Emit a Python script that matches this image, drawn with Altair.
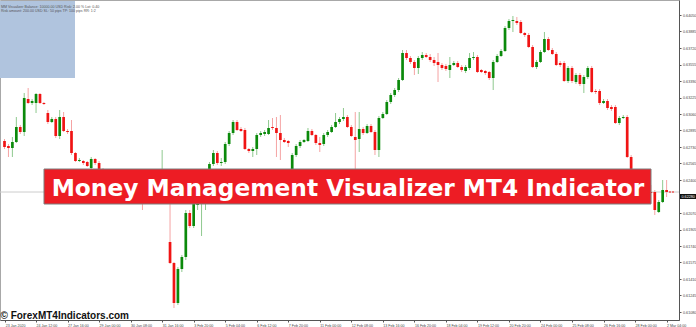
import altair as alt
import pandas as pd

# H4 candles, 23 Jan 2020 04:00 -> 2 Mar 2020 04:00 (Sunday bars included)
open_ = [
    0.6279, 0.6274, 0.6272, 0.6278, 0.6293, 0.6288, 0.6321, 0.6317, 0.6317, 0.6326,
    0.6317, 0.6307, 0.6298, 0.6301, 0.6284, 0.6303, 0.6289, 0.6289, 0.6267, 0.6259,
    0.6259, 0.6258, 0.6252, 0.6261, 0.6257, 0.6250, 0.6244, 0.6240, 0.6245, 0.6237,
    0.6232, 0.6236, 0.6230, 0.6227, 0.6231, 0.6224, 0.6222, 0.6229, 0.6234, 0.6239,
    0.6235, 0.6240, 0.6178, 0.6157, 0.6117, 0.6151, 0.6163, 0.6207, 0.6194, 0.6215,
    0.6220, 0.6230, 0.6242, 0.6256, 0.6267, 0.6257, 0.6258, 0.6276, 0.6287, 0.6298,
    0.6291, 0.6290, 0.6271, 0.6269, 0.6271, 0.6285, 0.6286, 0.6286, 0.6293, 0.6292,
    0.6287, 0.6280, 0.6279, 0.6248, 0.6265, 0.6274, 0.6278, 0.6279, 0.6289, 0.6285,
    0.6277, 0.6276, 0.6285, 0.6288, 0.6293, 0.6298, 0.6301, 0.6303, 0.6293, 0.6283,
    0.6281, 0.6291, 0.6287, 0.6294, 0.6288, 0.6270, 0.6302, 0.6306, 0.6318, 0.6325,
    0.6330, 0.6340, 0.6367, 0.6362, 0.6358, 0.6352, 0.6362, 0.6365, 0.6363, 0.6360,
    0.6358, 0.6355, 0.6354, 0.6350, 0.6355, 0.6357, 0.6353, 0.6349, 0.6352, 0.6362,
    0.6363, 0.6350, 0.6349, 0.6348, 0.6342, 0.6358, 0.6364, 0.6369, 0.6392, 0.6399,
    0.6399, 0.6398, 0.6387, 0.6385, 0.6373, 0.6353, 0.6358, 0.6368, 0.6381, 0.6370,
    0.6366, 0.6357, 0.6357, 0.6339, 0.6352, 0.6338, 0.6345, 0.6336, 0.6343, 0.6352,
    0.6329, 0.6329, 0.6317, 0.6319, 0.6313, 0.6313, 0.6297, 0.6302, 0.6303, 0.6263,
    0.6245, 0.6230, 0.6225, 0.6223, 0.6228, 0.6228, 0.6208, 0.6218, 0.6230,
]
high = [
    0.6281, 0.6276, 0.6283, 0.6303, 0.6295, 0.6327, 0.6332, 0.6321, 0.6327, 0.6327,
    0.6318, 0.6310, 0.6303, 0.6303, 0.6310, 0.6308, 0.6291, 0.6300, 0.6268, 0.6262,
    0.6260, 0.6259, 0.6263, 0.6262, 0.6259, 0.6252, 0.6248, 0.6249, 0.6247, 0.6240,
    0.6239, 0.6238, 0.6234, 0.6234, 0.6233, 0.6228, 0.6232, 0.6237, 0.6243, 0.6245,
    0.6270, 0.6244, 0.6220, 0.6158, 0.6153, 0.6165, 0.6210, 0.6210, 0.6220, 0.6230,
    0.6235, 0.6242, 0.6258, 0.6270, 0.6269, 0.6262, 0.6278, 0.6289, 0.6300, 0.6300,
    0.6293, 0.6292, 0.6272, 0.6273, 0.6287, 0.6289, 0.6290, 0.6300, 0.6302, 0.6303,
    0.6305, 0.6282, 0.6280, 0.6267, 0.6276, 0.6280, 0.6281, 0.6292, 0.6291, 0.6286,
    0.6283, 0.6287, 0.6290, 0.6295, 0.6307, 0.6303, 0.6312, 0.6305, 0.6295, 0.6308,
    0.6308, 0.6293, 0.6296, 0.6296, 0.6290, 0.6304, 0.6308, 0.6320, 0.6327, 0.6332,
    0.6342, 0.6370, 0.6370, 0.6364, 0.6360, 0.6364, 0.6368, 0.6367, 0.6366, 0.6363,
    0.6367, 0.6357, 0.6356, 0.6363, 0.6359, 0.6359, 0.6355, 0.6355, 0.6367, 0.6368,
    0.6365, 0.6351, 0.6350, 0.6349, 0.6360, 0.6366, 0.6371, 0.6394, 0.6401, 0.6404,
    0.6403, 0.6400, 0.6388, 0.6387, 0.6375, 0.6360, 0.6370, 0.6388, 0.6383, 0.6372,
    0.6368, 0.6359, 0.6359, 0.6354, 0.6354, 0.6347, 0.6347, 0.6345, 0.6354, 0.6354,
    0.6331, 0.6331, 0.6321, 0.6321, 0.6315, 0.6315, 0.6304, 0.6305, 0.6305, 0.6265,
    0.6248, 0.6235, 0.6232, 0.6232, 0.6235, 0.6230, 0.6220, 0.6240, 0.6240,
]
low = [
    0.6271, 0.6263, 0.6263, 0.6277, 0.6286, 0.6284, 0.6316, 0.6315, 0.6307, 0.6316,
    0.6315, 0.6296, 0.6297, 0.6282, 0.6281, 0.6288, 0.6286, 0.6265, 0.6258, 0.6258,
    0.6255, 0.6253, 0.6251, 0.6255, 0.6248, 0.6242, 0.6237, 0.6236, 0.6234, 0.6229,
    0.6228, 0.6226, 0.6223, 0.6224, 0.6221, 0.6210, 0.6219, 0.6226, 0.6231, 0.6232,
    0.6230, 0.6228, 0.6156, 0.6112, 0.6115, 0.6148, 0.6160, 0.6192, 0.6192, 0.6210,
    0.6184, 0.6210, 0.6238, 0.6254, 0.6255, 0.6254, 0.6256, 0.6274, 0.6285, 0.6289,
    0.6288, 0.6270, 0.6267, 0.6263, 0.6265, 0.6283, 0.6284, 0.6285, 0.6290, 0.6263,
    0.6260, 0.6277, 0.6273, 0.6245, 0.6263, 0.6272, 0.6277, 0.6278, 0.6284, 0.6275,
    0.6268, 0.6274, 0.6283, 0.6287, 0.6292, 0.6296, 0.6299, 0.6292, 0.6283, 0.6250,
    0.6268, 0.6285, 0.6286, 0.6287, 0.6265, 0.6263, 0.6301, 0.6305, 0.6316, 0.6323,
    0.6328, 0.6339, 0.6360, 0.6356, 0.6345, 0.6346, 0.6360, 0.6362, 0.6358, 0.6354,
    0.6338, 0.6350, 0.6349, 0.6342, 0.6354, 0.6352, 0.6348, 0.6347, 0.6350, 0.6360,
    0.6347, 0.6347, 0.6345, 0.6340, 0.6330, 0.6357, 0.6363, 0.6368, 0.6390, 0.6388,
    0.6395, 0.6386, 0.6383, 0.6372, 0.6352, 0.6351, 0.6357, 0.6367, 0.6369, 0.6365,
    0.6354, 0.6353, 0.6338, 0.6337, 0.6337, 0.6336, 0.6334, 0.6327, 0.6341, 0.6327,
    0.6326, 0.6315, 0.6316, 0.6310, 0.6309, 0.6296, 0.6295, 0.6301, 0.6262, 0.6242,
    0.6225, 0.6220, 0.6222, 0.6221, 0.6217, 0.6205, 0.6207, 0.6217, 0.6223,
]
close = [
    0.6273, 0.6272, 0.6278, 0.6293, 0.6288, 0.6322, 0.6317, 0.6319, 0.6326, 0.6317,
    0.6316, 0.6298, 0.6301, 0.6284, 0.6303, 0.6289, 0.6288, 0.6267, 0.6259, 0.6260,
    0.6257, 0.6254, 0.6261, 0.6257, 0.6250, 0.6244, 0.6240, 0.6245, 0.6237, 0.6232,
    0.6236, 0.6230, 0.6227, 0.6231, 0.6224, 0.6222, 0.6229, 0.6234, 0.6239, 0.6235,
    0.6240, 0.6232, 0.6157, 0.6117, 0.6151, 0.6163, 0.6207, 0.6194, 0.6217, 0.6225,
    0.6232, 0.6238, 0.6256, 0.6267, 0.6257, 0.6258, 0.6276, 0.6287, 0.6298, 0.6290,
    0.6289, 0.6271, 0.6269, 0.6271, 0.6285, 0.6287, 0.6288, 0.6292, 0.6292, 0.6287,
    0.6280, 0.6278, 0.6277, 0.6265, 0.6274, 0.6278, 0.6280, 0.6289, 0.6285, 0.6277,
    0.6275, 0.6285, 0.6288, 0.6293, 0.6298, 0.6301, 0.6303, 0.6293, 0.6284, 0.6280,
    0.6291, 0.6287, 0.6294, 0.6288, 0.6270, 0.6302, 0.6306, 0.6318, 0.6325, 0.6330,
    0.6340, 0.6367, 0.6362, 0.6358, 0.6352, 0.6362, 0.6365, 0.6363, 0.6360, 0.6357,
    0.6355, 0.6352, 0.6351, 0.6355, 0.6357, 0.6353, 0.6350, 0.6353, 0.6362, 0.6363,
    0.6348, 0.6348, 0.6347, 0.6342, 0.6358, 0.6364, 0.6369, 0.6392, 0.6399, 0.6400,
    0.6397, 0.6387, 0.6385, 0.6373, 0.6353, 0.6358, 0.6368, 0.6381, 0.6370, 0.6366,
    0.6355, 0.6355, 0.6339, 0.6352, 0.6339, 0.6345, 0.6336, 0.6343, 0.6352, 0.6328,
    0.6328, 0.6317, 0.6319, 0.6312, 0.6311, 0.6297, 0.6302, 0.6303, 0.6263, 0.6245,
    0.6230, 0.6225, 0.6227, 0.6229, 0.6227, 0.6210, 0.6218, 0.6230, 0.6228,
]

# time-axis captions, one every 8 bars
time_labels = [
    "23 Jan 2020", "24 Jan 12:00", "27 Jan 16:00", "29 Jan 00:00", "30 Jan 08:00",
    "31 Jan 16:00", "3 Feb 20:00", "5 Feb 04:00", "6 Feb 12:00", "7 Feb 20:00",
    "11 Feb 00:00", "12 Feb 08:00", "13 Feb 16:00", "16 Feb 20:00", "18 Feb 04:00",
    "19 Feb 12:00", "20 Feb 20:00", "24 Feb 00:00", "25 Feb 08:00", "26 Feb 16:00",
    "28 Feb 00:00", "2 Mar 04:00",
]
price_ticks = [
    0.64050, 0.63885, 0.63720, 0.63555, 0.63390, 0.63225, 0.63060, 0.62895,
    0.62730, 0.62565, 0.62400, 0.62235, 0.62070, 0.61905, 0.61740, 0.61575,
    0.61410, 0.61245, 0.61080,
]
panel_lines = [
    "MM Visualizer  Balance: 10000.00 USD  Risk: 2.00 %  Lot: 0.40",
    "Risk amount: 200.00 USD  SL: 50 pips  TP: 100 pips  RR: 1:2",
]
title_text = "Money Management Visualizer MT4 Indicator"
site_text = "\u00a9 ForexMT4Indicators.com"

n = len(close)
bars = pd.DataFrame({
    "bar": list(range(n)),
    "open": open_, "high": high, "low": low, "close": close,
})
last_close = close[-1]
x_dom = [0.125, 169.875]
y_dom = [0.6100, 0.6420]

# current price marker: level, its caption and the stretch right of the last bar
quote = pd.DataFrame({
    "price": [last_close],
    "caption": [f"{last_close:.5f}"],
    "from_bar": [n - 1 + 0.6],
    "to_bar": [x_dom[1]],
})

label_expr = "[" + ",".join("'" + s + "'" for s in time_labels) + "][round(datum.value / 8)]"

x_scale = alt.Scale(domain=x_dom, nice=False, zero=False)
y_scale = alt.Scale(domain=y_dom, nice=False, zero=False)

# the same axis definitions go on every layer so that they merge into one
x_axis = alt.Axis(
    values=list(range(8, n, 8)) + [0.2], labelExpr=label_expr, orient="bottom",
    grid=False, tickSize=2, tickColor="#555", domainColor="#555",
    labelFontSize=3.6, labelColor="#444", labelAlign="left", labelPadding=1,
    labelBound=False, labelFlush=False, labelOverlap=False, title=None,
)
y_axis = alt.Axis(
    values=price_ticks, format=".5f", orient="right", grid=False,
    tickSize=2, tickColor="#555", domainColor="#555",
    labelFontSize=3.7, labelColor="#444", labelPadding=1.5,
    labelOverlap=False, labelBound=False, labelFlush=False, title=None,
)


def X(field):
    return alt.X(field, type="quantitative", scale=x_scale, axis=x_axis)


def Y(field):
    return alt.Y(field, type="quantitative", scale=y_scale, axis=y_axis)


is_up = alt.datum.close >= alt.datum.open
base = alt.Chart(bars)

wicks = base.mark_rule(strokeWidth=1, clip=True).encode(
    x=X("bar"), y=Y("low"), y2="high",
    color=alt.condition(is_up, alt.value("#8fc98f"), alt.value("#f5a3a3")),
)
bodies = base.mark_bar(size=2.7, clip=True).encode(
    x=X("bar"), y=Y("open"), y2="close",
    color=alt.condition(is_up, alt.value("#0b8a0b"), alt.value("#f01414")),
)

q = alt.Chart(quote)
bid_line = q.mark_rule(color="#cccccc", strokeWidth=1).encode(y=Y("price"))
ask_tail = q.mark_rule(color="#f01414", strokeWidth=1, strokeDash=[2, 1]).encode(
    x=X("from_bar"), x2="to_bar", y=Y("price"),
)
price_box = q.mark_rect(color="#111", yOffset=2, y2Offset=7).encode(
    x=alt.value(680), x2=alt.value(696), y=Y("price"), y2="price",
)
price_text = q.mark_text(
    align="left", baseline="middle", fontSize=3.7, color="white", dy=4.5,
).encode(x=alt.value(681.5), y=Y("price"), text="caption:N")

one = pd.DataFrame({"k": [0]})
panel = alt.Chart(one).mark_rect(color="#b0c4de").encode(
    x=alt.value(0), x2=alt.value(75), y=alt.value(1), y2=alt.value(78),
)
panel_rows = [
    alt.Chart(one).mark_text(
        align="left", baseline="top", fontSize=3.6, color="#555",
    ).encode(x=alt.value(1), y=alt.value(5 + 4 * i), text=alt.value(line))
    for i, line in enumerate(panel_lines)
]

banner = alt.Chart(one).mark_rect(color="#ed1c24", stroke="#7d7d7d", strokeWidth=1).encode(
    x=alt.value(44), x2=alt.value(651), y=alt.value(169), y2=alt.value(204),
)
banner_text = alt.Chart(one).mark_text(
    font="DejaVu Sans", fontWeight="bold", fontSize=23.3, color="white",
    align="center", baseline="alphabetic",
).encode(x=alt.value(348), y=alt.value(196), text=alt.value(title_text))

site = alt.Chart(one).mark_text(
    font="Liberation Sans", fontWeight="bold", fontSize=10, color="#111",
    align="left", baseline="alphabetic",
).encode(x=alt.value(0.5), y=alt.value(319), text=alt.value(site_text))

chart = alt.layer(
    wicks, panel, *panel_rows, bid_line, bodies, ask_tail,
    banner, banner_text, site, price_box, price_text,
).properties(
    width=679, height=320,
    padding={"left": 0, "top": 0, "right": 17, "bottom": 7},
    autosize=alt.AutoSizeParams(type="none"),
    background="white",
).configure(font="Liberation Sans").configure_view(stroke="#a8a8a8", strokeWidth=1)

chart.save("out.html", embed_options={"renderer": "svg", "actions": False})
